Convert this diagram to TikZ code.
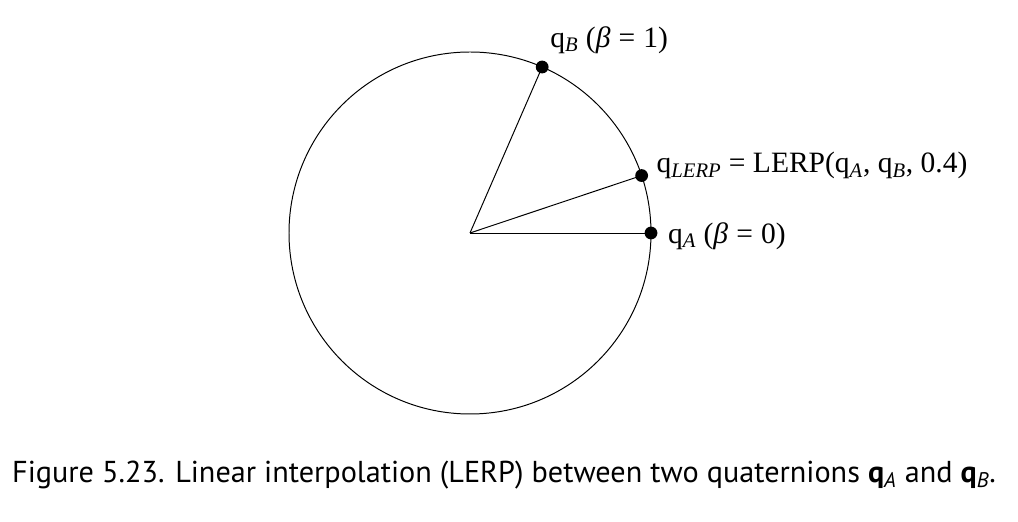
\documentclass[tikz,border=0pt]{standalone}
\usepackage{fontspec}
\setmainfont{Liberation Serif}
\newfontfamily\capfont{PT Sans}
\usetikzlibrary{positioning,calc}

\begin{document}
\begin{tikzpicture}[
  % ── points on the circle ──
  qdot/.style={circle, fill=black, minimum size=3.2mm, inner sep=0},
  % ── labels ──
  qlbl/.style={font=\fontsize{21}{23}\selectfont, inner sep=0, anchor=west},
  spoke/.style={line width=0.7pt, black},
]
\useasboundingbox (0,0) rectangle (25.45,13.05);

\def\rad{4.525}   % circle radius

%% ─── circle and centre ──────────────────────────────
\coordinate (O) at (11.75,7.225);
\draw[spoke] (O) circle (\rad);

%% ─── quaternions on the circle ──────────────────────
\node[qdot] (qA)    at ($(O)+(0:\rad)$)    {};
\node[qdot] (qLerp) at ($(O)+(18.5:\rad)$) {};
\node[qdot] (qB)    at ($(O)+(66.5:\rad)$) {};

\draw[spoke] (O) -- (qA.center);
\draw[spoke] (O) -- (qLerp.center);
\draw[spoke] (O) -- (qB.center);

%% ─── labels ─────────────────────────────────────────
\node[qlbl] (lA) at ($(qA)+(0.42,-0.07)$)
  {q\textsubscript{\itshape A} ({\itshape β}\;=\;0)};
\node[qlbl] (lLerp) at ($(qLerp)+(0.37,0.25)$)
  {q\textsubscript{\itshape LERP} = LERP(q\textsubscript{\itshape A}, q\textsubscript{\itshape B}, 0.4)};
\node[qlbl] (lB) at ($(qB)+(0.2,0.67)$)
  {q\textsubscript{\itshape B} ({\itshape β}\;=\;1)};

%% ─── caption ────────────────────────────────────────
\node[font=\capfont\fontsize{21.5}{24}\selectfont, inner sep=0] (cap) at (12.6,1.175)
  {Figure 5.23. Linear interpolation (LERP) between two quaternions
   {\bfseries q}\textsubscript{\itshape A} and {\bfseries q}\textsubscript{\itshape B}.};
\end{tikzpicture}
\end{document}
